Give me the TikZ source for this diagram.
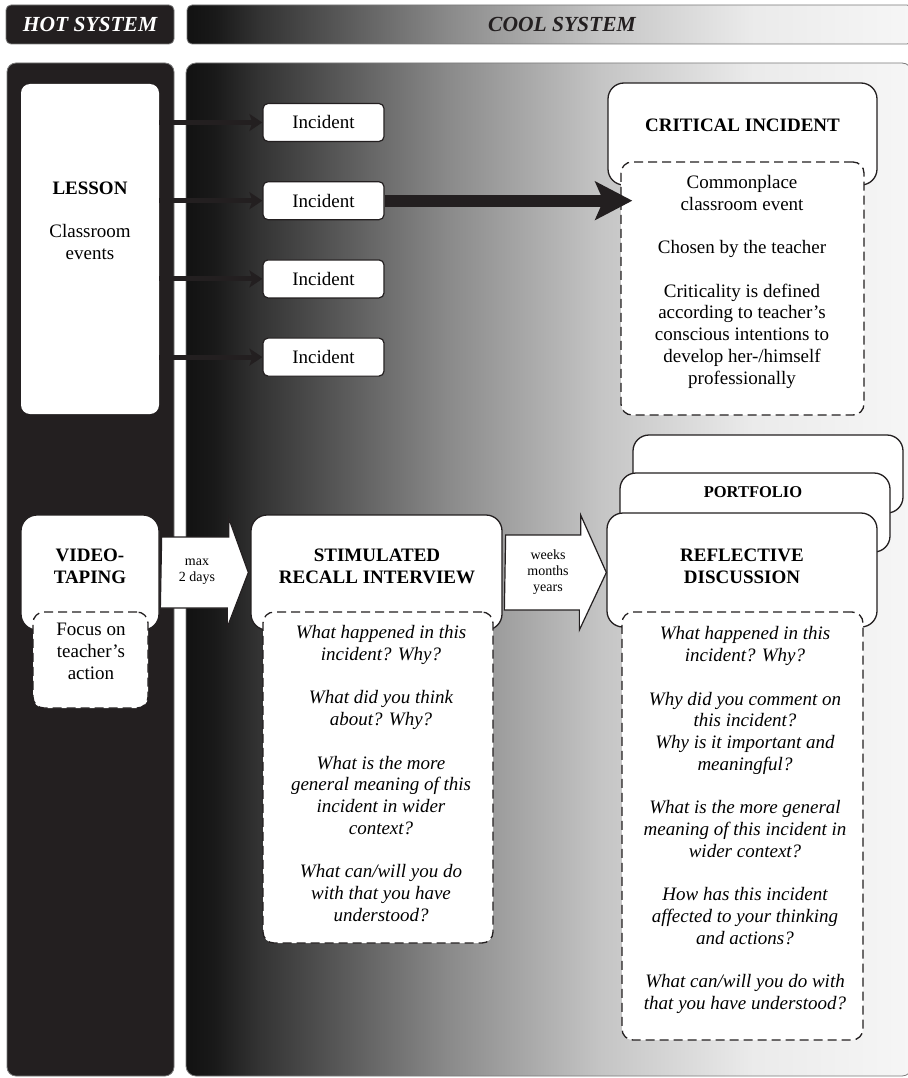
\documentclass[tikz,border=0pt]{standalone}
\usepackage{fontspec}
\setmainfont{Liberation Serif}
\usetikzlibrary{arrows.meta,positioning}
\definecolor{hotgray}{HTML}{231F20}
\definecolor{rimgray}{HTML}{7A7A7A}
\definecolor{cool0}{rgb}{0.07,0.07,0.07}
\definecolor{cool1}{rgb}{0.10,0.10,0.10}
\definecolor{cool2}{rgb}{0.20,0.20,0.20}
\definecolor{cool3}{rgb}{0.33,0.33,0.33}
\definecolor{cool4}{rgb}{0.54,0.54,0.54}
\definecolor{cool5}{rgb}{0.77,0.77,0.77}
\definecolor{cool6}{rgb}{0.92,0.92,0.92}
\definecolor{cool7}{rgb}{0.965,0.965,0.965}
\pgfdeclarehorizontalshading{coolshade}{100bp}{color(0bp)=(cool0); color(25bp)=(cool0); color(27bp)=(cool1); color(30bp)=(cool2); color(35bp)=(cool3); color(43bp)=(cool4); color(53.5bp)=(cool5); color(64bp)=(cool6); color(75bp)=(cool7); color(100bp)=(cool7)}
\newcommand\figsize{\fontsize{19}{21.8}\selectfont}

\begin{document}
\begin{tikzpicture}[x=1pt, y=-1pt, font=\figsize, panel/.style={draw=rimgray, line width=0.8pt}, solidbox/.style={draw=hotgray, fill=white, line width=1.3pt, rounded corners=16pt}, dashbox/.style={draw=hotgray, fill=white, line width=1.3pt, dash pattern=on 9pt off 5pt, rounded corners=11pt}, incbox/.style={draw=hotgray, fill=white, line width=1.2pt, rounded corners=5pt, minimum width=121pt, minimum height=38pt, font=\figsize}, headtxt/.style={font=\fontsize{21.5}{24}\selectfont\bfseries\itshape}, titletxt/.style={font=\figsize\bfseries, align=center}, bodytxt/.style={font=\figsize, align=center, anchor=base, inner sep=0pt}, asktxt/.style={bodytxt, font=\figsize\itshape}, smalltxt/.style={align=center, anchor=base, inner sep=0pt, font=\fontsize{14}{16}\selectfont}, blockarrow/.style={draw=hotgray, fill=white, line width=1.2pt, line join=miter}, incarrow/.style={hotgray, line width=5pt, -{Stealth[length=13pt, width=17pt, inset=3pt]}}, bigarrow/.style={hotgray, line width=12pt, -{Stealth[length=37pt, width=38pt, inset=8pt]}}]
\useasboundingbox (0,0) rectangle (907,1078);
\node[panel, fill=hotgray, rounded corners=5pt, minimum width=168pt, minimum height=39pt, text=white, headtxt] (hothead) at (90,24.5) {HOT SYSTEM};
\shade[panel, shading=coolshade, rounded corners=5pt] (187,5) rectangle (912,44);
\node[headtxt, text=hotgray] (coolhead) at (562,24.5) {COOL SYSTEM};
\path[panel, fill=hotgray, rounded corners=9pt] (7,63) rectangle (174,1076);
\shade[panel, shading=coolshade, rounded corners=10pt] (186,63) rectangle (912,1076);

\node[fill=white, rounded corners=9pt, minimum width=138pt, minimum height=330pt] (lesson) at (90,249) {};
\node[bodytxt] (lessontxt) at (90,259.3) {\textbf{LESSON}\\[21.5pt]Classroom\\events};
\node[incbox] (inc1) at (323.5,122.5) {Incident};
\node[incbox, below=39pt of inc1] (inc2) {Incident};
\node[incbox, below=39pt of inc2] (inc3) {Incident};
\node[incbox, below=39pt of inc3] (inc4) {Incident};
\foreach \i in {1,...,4} \draw[incarrow] (lesson.east |- inc\i.west) -- (inc\i.west);

\node[solidbox, minimum width=269pt, minimum height=102pt] (critbox) at (742.5,134) {};
\node[titletxt] (crittitle) at (742.5,125) {CRITICAL INCIDENT};
\node[dashbox, minimum width=243pt, minimum height=253pt] (critbody) at (742.5,288.5) {};
\node[bodytxt] (crittxt) at (742,384.3) {Commonplace\\classroom event\\[21.5pt]Chosen by the teacher\\[21.5pt]Criticality is defined\\according to teacher's\\conscious intentions to\\develop her-/himself\\professionally};
\draw[bigarrow, shorten >=-12pt] (inc2.east) -- (critbody.west |- inc2.east);

\node[solidbox, minimum width=138pt, minimum height=115pt] (video) at (90,572.5) {};
\node[titletxt] (videotitle) at (90,566) {VIDEO-\\TAPING};
\node[dashbox, minimum width=115pt, minimum height=96pt] (videobody) at (90.5,660) {};
\node[bodytxt] (videotxt) at (91,679.3) {Focus on\\teacher's\\action};

\node[solidbox, minimum width=251pt, minimum height=115pt] (stim) at (376.5,572.5) {};
\node[titletxt] (stimtitle) at (377,566) {STIMULATED\\RECALL INTERVIEW};
\node[dashbox, minimum width=230pt, minimum height=331pt] (stimbody) at (378,777.5) {};
\node[asktxt] (stimtxt) at (381,921.3) {What happened in this\\incident? Why?\\[21.5pt]What did you think\\about? Why?\\[21.5pt]What is the more\\general meaning of this\\incident in wider\\context?\\[21.5pt]What can/will you do\\with that you have\\understood?};

\node[solidbox, minimum width=270pt, minimum height=78pt] (backcard) at (768,474) {};
\node[solidbox, minimum width=270pt, minimum height=79pt] (portfolio) at (755,512.5) {};
\node[titletxt, font=\fontsize{16.5}{19}\selectfont\bfseries] (portfoliotitle) at (753,492) {PORTFOLIO};
\node[solidbox, minimum width=270pt, minimum height=114pt] (refl) at (742,570) {};
\node[titletxt] (refltitle) at (742,566.5) {REFLECTIVE\\DISCUSSION};
\node[dashbox, minimum width=241pt, minimum height=428pt] (reflbody) at (742.5,826) {};
\node[asktxt] (refltxt) at (745,1009.3) {What happened in this\\incident? Why?\\[21.5pt]Why did you comment on\\this incident?\\Why is it important and\\meaningful?\\[21.5pt]What is the more general\\meaning of this incident in\\wider context?\\[21.5pt]How has this incident\\affected to your thinking\\and actions?\\[21.5pt]What can/will you do with\\that you have understood?};

\draw[blockarrow] ([xshift=2pt, yshift=35.5pt]video.east) -- ++(67,0) -- ++(0,-19) -- ([xshift=-2pt]stim.west) -- ++(-21,54.5) -- ++(0,-19) -- ++(-67,0) -- cycle;
\node[smalltxt] (maxtxt) at (197,581.2) {max\\2 days};
\draw[blockarrow] ([xshift=3pt, yshift=37.5pt]stim.east) -- ++(75,0) -- ++(0,-20) -- (stim.east -| refl.west) -- ++(-27,57.5) -- ++(0,-20) -- ++(-75,0) -- cycle;
\node[smalltxt] (weekstxt) at (548,591.2) {weeks\\months\\years};
\end{tikzpicture}
\end{document}
